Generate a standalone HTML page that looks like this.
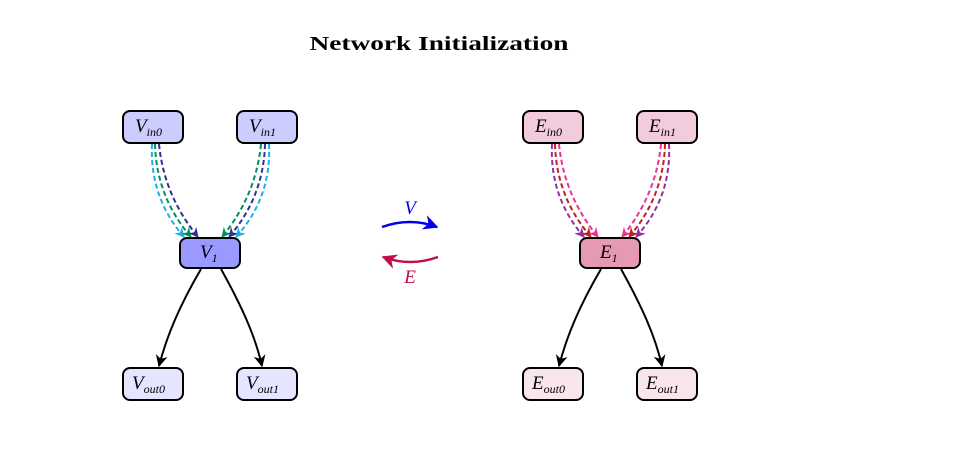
<!DOCTYPE html>
<html><head><meta charset="utf-8"><style>
html,body{margin:0;padding:0;background:#fff;}
svg{display:block;}
.n{font-family:"Liberation Serif",serif;font-style:italic;font-size:19px;}
.s{font-family:"Liberation Serif",serif;font-style:italic;font-size:12px;}
</style></head><body>
<svg width="976" height="469" viewBox="0 0 976 469" xmlns="http://www.w3.org/2000/svg">
<defs>
<marker id="ak" viewBox="0 0 10 10" refX="9" refY="5" markerWidth="6" markerHeight="6" orient="auto"><path d="M0,0 L10,5 L0,10 L3,5 z" fill="#000"/></marker>
<marker id="ab" viewBox="0 0 10 10" refX="9" refY="5" markerWidth="6" markerHeight="6" orient="auto"><path d="M0,0 L10,5 L0,10 L3,5 z" fill="#0000ee"/></marker>
<marker id="ar" viewBox="0 0 10 10" refX="9" refY="5" markerWidth="6" markerHeight="6" orient="auto"><path d="M0,0 L10,5 L0,10 L3,5 z" fill="#c0104a"/></marker>
<marker id="mc" viewBox="0 0 10 10" refX="9" refY="5" markerWidth="5" markerHeight="5" orient="auto"><path d="M0,0 L10,5 L0,10 L3,5 z" fill="#1ab0e8"/></marker>
<marker id="mg" viewBox="0 0 10 10" refX="9" refY="5" markerWidth="5" markerHeight="5" orient="auto"><path d="M0,0 L10,5 L0,10 L3,5 z" fill="#009060"/></marker>
<marker id="mn" viewBox="0 0 10 10" refX="9" refY="5" markerWidth="5" markerHeight="5" orient="auto"><path d="M0,0 L10,5 L0,10 L3,5 z" fill="#303090"/></marker>
<marker id="mp" viewBox="0 0 10 10" refX="9" refY="5" markerWidth="5" markerHeight="5" orient="auto"><path d="M0,0 L10,5 L0,10 L3,5 z" fill="#9030a0"/></marker>
<marker id="md" viewBox="0 0 10 10" refX="9" refY="5" markerWidth="5" markerHeight="5" orient="auto"><path d="M0,0 L10,5 L0,10 L3,5 z" fill="#c02020"/></marker>
<marker id="mk" viewBox="0 0 10 10" refX="9" refY="5" markerWidth="5" markerHeight="5" orient="auto"><path d="M0,0 L10,5 L0,10 L3,5 z" fill="#f03090"/></marker>
</defs>

<text x="439" y="50" text-anchor="middle" font-family="Liberation Serif,serif" font-weight="bold" font-size="20" textLength="259" lengthAdjust="spacingAndGlyphs">Network Initialization</text>

<g fill="none" stroke-width="2" stroke-dasharray="5,3">
<!-- V left group -->
<path d="M152,144 C150,185 165,215 184,237" stroke="#1ab0e8" marker-end="url(#mc)"/>
<path d="M155,144 C156,185 172,215 191,237" stroke="#009060" marker-end="url(#mg)"/>
<path d="M159,144 C163,185 180,215 198,237" stroke="#303090" marker-end="url(#mn)"/>
<!-- V right group -->
<path d="M261,144 C257,185 240,215 222,237" stroke="#009060" marker-end="url(#mg)"/>
<path d="M265,144 C264,185 248,215 229,237" stroke="#303090" marker-end="url(#mn)"/>
<path d="M269,144 C271,185 256,215 236,237" stroke="#1ab0e8" marker-end="url(#mc)"/>
<!-- E left group -->
<path d="M552,144 C550,185 565,215 584,237" stroke="#9030a0" marker-end="url(#mp)"/>
<path d="M555,144 C556,185 572,215 591,237" stroke="#c02020" marker-end="url(#md)"/>
<path d="M559,144 C563,185 580,215 598,237" stroke="#f03090" marker-end="url(#mk)"/>
<!-- E right group -->
<path d="M661,144 C657,185 640,215 622,237" stroke="#f03090" marker-end="url(#mk)"/>
<path d="M665,144 C664,185 648,215 629,237" stroke="#c02020" marker-end="url(#md)"/>
<path d="M669,144 C671,185 656,215 636,237" stroke="#9030a0" marker-end="url(#mp)"/>
</g>

<g fill="none" stroke="#000" stroke-width="2">
<path d="M201,269 C180,305 167,335 159,366" marker-end="url(#ak)"/>
<path d="M221,269 C241,305 255,335 262,366" marker-end="url(#ak)"/>
<path d="M601,269 C580,305 567,335 559,366" marker-end="url(#ak)"/>
<path d="M621,269 C641,305 655,335 662,366" marker-end="url(#ak)"/>
</g>

<path d="M382,227 Q410,217 437,227" fill="none" stroke="#0000ee" stroke-width="2.5" marker-end="url(#ab)"/>
<text x="410" y="214" text-anchor="middle" class="n" fill="#0000ee" font-size="17">V</text>
<path d="M438,257 Q410,267 383,257" fill="none" stroke="#c0104a" stroke-width="2.5" marker-end="url(#ar)"/>
<text x="410" y="283" text-anchor="middle" class="n" fill="#c0104a" font-size="17">E</text>

<g stroke="#000" stroke-width="2">
<rect x="123" y="111" width="60" height="32" rx="7" fill="#ccccff"/>
<rect x="237" y="111" width="60" height="32" rx="7" fill="#ccccff"/>
<rect x="180" y="238" width="60" height="30" rx="7" fill="#9999ff"/>
<rect x="123" y="368" width="60" height="32" rx="7" fill="#e5e5ff"/>
<rect x="237" y="368" width="60" height="32" rx="7" fill="#e5e5ff"/>
<rect x="523" y="111" width="60" height="32" rx="7" fill="#f2ccdc"/>
<rect x="637" y="111" width="60" height="32" rx="7" fill="#f2ccdc"/>
<rect x="580" y="238" width="60" height="30" rx="7" fill="#e599b5"/>
<rect x="523" y="368" width="60" height="32" rx="7" fill="#f9e5ed"/>
<rect x="637" y="368" width="60" height="32" rx="7" fill="#f9e5ed"/>
</g>

<g fill="#000">
<text x="135" y="132" class="n">V<tspan class="s" dy="4">in</tspan><tspan class="s" font-style="normal" font-size="10">0</tspan></text>
<text x="249" y="132" class="n">V<tspan class="s" dy="4">in</tspan><tspan class="s" font-style="normal" font-size="10">1</tspan></text>
<text x="200" y="258" class="n">V<tspan class="s" font-style="normal" dy="4">1</tspan></text>
<text x="132" y="389" class="n">V<tspan class="s" dy="4">out</tspan><tspan class="s" font-style="normal" font-size="10">0</tspan></text>
<text x="246" y="389" class="n">V<tspan class="s" dy="4">out</tspan><tspan class="s" font-style="normal" font-size="10">1</tspan></text>
<text x="535" y="132" class="n">E<tspan class="s" dy="4">in</tspan><tspan class="s" font-style="normal" font-size="10">0</tspan></text>
<text x="649" y="132" class="n">E<tspan class="s" dy="4">in</tspan><tspan class="s" font-style="normal" font-size="10">1</tspan></text>
<text x="600" y="258" class="n">E<tspan class="s" font-style="normal" dy="4">1</tspan></text>
<text x="532" y="389" class="n">E<tspan class="s" dy="4">out</tspan><tspan class="s" font-style="normal" font-size="10">0</tspan></text>
<text x="646" y="389" class="n">E<tspan class="s" dy="4">out</tspan><tspan class="s" font-style="normal" font-size="10">1</tspan></text>
</g>
</svg>
</body></html>
